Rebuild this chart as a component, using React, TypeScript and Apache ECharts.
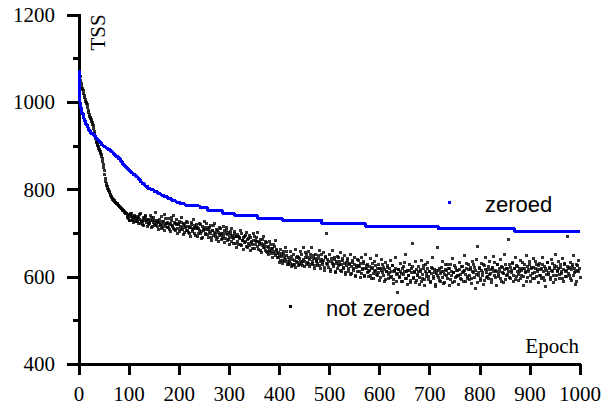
import React, { useEffect, useRef } from "react";
import * as echarts from "echarts";

// "zeroed" run: TSS per epoch (plateau starts)
const zeroedEpochs = [0, 1, 2, 3, 5, 8, 10, 13, 16, 19, 23, 28, 32, 36, 40, 44, 48, 53, 58, 63, 68, 73, 78, 83, 87, 91, 95, 99, 103, 108, 113, 118, 122, 126, 131, 137, 143, 150, 157, 163, 170, 177, 185, 193, 202, 212, 224, 242, 257, 287, 311, 357, 407, 485, 571, 717, 870, 1000];
const zeroedTSS = [1075, 1015, 1000, 988, 975, 965, 958, 950, 943, 935, 929, 924, 919, 914, 908, 903, 899, 895, 891, 886, 881, 876, 870, 864, 858, 853, 848, 843, 838, 834, 829, 824, 818, 813, 808, 803, 799, 795, 791, 787, 783, 779, 775, 771, 767, 763, 762, 758, 752, 745, 740, 733, 729, 722, 716, 710, 704, 704];

// "not zeroed" run: epochs 0..95, one value per epoch
const notZeroedEarly = [
  1078, 1068, 1060, 1050, 1042, 1036, 1032, 1030, 1026, 1020,
  1015, 1010, 1006, 1002, 1000, 998, 994, 988, 982, 976,
  971, 968, 965, 962, 960, 956, 953, 950, 946, 940,
  934, 928, 922, 916, 911, 907, 904, 901, 898, 895,
  892, 889, 886, 883, 880, 876, 871, 865, 858, 851,
  843, 834, 825, 818, 813, 809, 806, 803, 800, 797,
  795, 792, 789, 786, 784, 782, 780, 778, 777, 775,
  774, 773, 771, 770, 769, 768, 767, 766, 764, 763,
  762, 760, 759, 758, 757, 756, 755, 753, 752, 751,
  750, 748, 747, 746, 745, 744,
];

// "not zeroed" run: even epochs 96..1000
const evenFirstEpoch = 96;
const notZeroedEven = [
  735, 742, 730, 738, 745, 728, 736, 741, 726, 733,
  738, 722, 731, 744, 727, 719, 735, 729, 740, 724,
  716, 732, 725, 741, 712, 728, 735, 720, 747, 723,
  730, 709, 725, 718, 737, 714, 726, 705, 733, 721,
  712, 734, 720, 703, 728, 716, 740, 709, 722, 731,
  700, 719, 727, 708, 735, 713, 697, 722, 716, 705,
  725, 702, 714, 692, 719, 708, 731, 698, 712, 720,
  693, 711, 722, 700, 688, 716, 705, 727, 697, 709,
  714, 690, 703, 718, 684, 707, 695, 722, 699, 686,
  705, 681, 712, 694, 700, 688, 716, 679, 698, 706,
  684, 701, 673, 696, 711, 689, 677, 703, 692, 668,
  697, 675, 690, 706, 671, 684, 663, 693, 680, 702,
  668, 687, 695, 660, 681, 674, 699, 665, 683, 690,
  701, 662, 678, 686, 655, 671, 692, 666, 680, 659,
  669, 650, 680, 657, 665, 645, 675, 654, 684, 660,
  643, 656, 633, 662, 647, 638, 659, 634, 667, 649,
  629, 645, 634, 657, 624, 640, 650, 627, 662, 636,
  647, 625, 641, 658, 630, 636, 668, 623, 644, 651,
  633, 658, 624, 645, 667, 630, 641, 620, 652, 637,
  626, 648, 661, 619, 639, 632, 656, 615, 644, 698,
  640, 622, 651, 612, 634, 660, 627, 645, 609, 636,
  618, 643, 629, 655, 612, 637, 622, 648, 605, 632,
  641, 613, 628, 652, 607, 633, 619, 645, 600, 625,
  611, 637, 624, 598, 643, 616, 630, 604, 650, 619,
  628, 600, 614, 641, 595, 621, 607, 636, 612, 648,
  603, 627, 592, 618, 640, 609, 622, 588, 633, 611,
  621, 596, 609, 637, 601, 625, 584, 614, 644, 605,
  563, 617, 598, 631, 607, 589, 623, 612, 650, 595,
  615, 602, 628, 586, 619, 676, 597, 610, 634, 592,
  604, 623, 583, 612, 638, 596, 619, 580, 627, 607,
  632, 593, 611, 586, 621, 645, 600, 616, 578, 608,
  667, 598, 620, 590, 612, 636, 585, 605, 627, 614,
  596, 618, 579, 629, 603, 641, 610, 588, 622, 600,
  615, 582, 633, 606, 594, 624, 612, 648, 589, 619,
  601, 628, 593, 617, 585, 636, 609, 622, 574, 640,
  670, 604, 619, 592, 631, 610, 583, 625, 643, 598,
  617, 596, 635, 608, 587, 622, 646, 603, 614, 581,
  628, 600, 612, 639, 590, 621, 607, 652, 594, 618,
  605, 686, 627, 597, 614, 633, 588, 619, 644, 601,
  624, 592, 611, 637, 603, 620, 580, 629, 612, 648,
  599, 616, 634, 590, 622, 607, 642, 595, 618, 627,
  611, 586, 631, 604, 619, 645, 598, 623, 577, 614,
  632, 606, 620, 593, 639, 612, 587, 626, 651, 603,
  615, 636, 596, 622, 608, 642, 589, 628, 612, 600,
  692, 619, 604, 633, 591, 624, 648, 610, 583, 627,
  614, 637, 598,
];

// "not zeroed" run: odd epochs 97..999
const oddFirstEpoch = 97;
const notZeroedOdd = [
  740, 733, 729, 744, 737, 731, 725, 739, 734, 729,
  727, 735, 742, 721, 730, 726, 717, 733, 737, 728,
  731, 719, 722, 728, 736, 715, 724, 730, 718, 727,
  715, 724, 731, 720, 711, 727, 719, 742, 716, 723,
  725, 714, 708, 721, 735, 718, 711, 724, 706, 719,
  711, 722, 703, 716, 725, 709, 719, 701, 714, 727,
  707, 716, 699, 712, 724, 704, 710, 717, 695, 711,
  712, 698, 707, 719, 703, 691, 709, 714, 700, 722,
  696, 708, 712, 699, 689, 705, 717, 701, 693, 708,
  690, 702, 697, 711, 685, 699, 693, 705, 687, 714,
  697, 685, 690, 704, 681, 695, 688, 699, 676, 693,
  681, 692, 687, 674, 698, 683, 690, 679, 694, 670,
  685, 676, 671, 689, 678, 664, 684, 693, 673, 681,
  669, 680, 673, 661, 676, 685, 668, 674, 660, 679,
  656, 667, 661, 673, 653, 664, 658, 670, 649, 663,
  653, 645, 648, 637, 654, 631, 651, 645, 640, 657,
  634, 627, 640, 631, 646, 625, 629, 637, 622, 644,
  632, 643, 628, 636, 651, 626, 640, 634, 655, 629,
  645, 631, 639, 651, 628, 636, 648, 625, 642, 634,
  631, 641, 625, 636, 650, 629, 638, 622, 646, 631,
  628, 636, 617, 642, 631, 624, 639, 613, 630, 647,
  625, 634, 614, 628, 641, 620, 631, 609, 626, 638,
  619, 631, 606, 624, 637, 615, 627, 603, 622, 639,
  626, 613, 631, 607, 620, 635, 601, 618, 626, 609,
  612, 623, 604, 619, 630, 597, 615, 626, 605, 620,
  609, 620, 598, 614, 627, 603, 617, 594, 612, 625,
  605, 618, 599, 611, 626, 593, 613, 620, 589, 607,
  616, 601, 612, 590, 620, 606, 633, 597, 611, 583,
  603, 614, 592, 609, 624, 598, 611, 587, 616, 605,
  611, 598, 617, 590, 606, 626, 594, 612, 601, 620,
  600, 613, 589, 607, 619, 596, 610, 583, 614, 604,
  615, 591, 608, 622, 599, 611, 587, 617, 603, 628,
  607, 619, 594, 613, 586, 610, 625, 598, 615, 604,
  602, 617, 596, 623, 609, 590, 614, 605, 630, 597,
  616, 603, 621, 595, 612, 629, 599, 614, 606, 587,
  609, 622, 597, 615, 604, 628, 592, 617, 610, 601,
  624, 605, 616, 593, 620, 611, 632, 598, 613, 627,
  606, 619, 597, 624, 610, 586, 616, 629, 603, 620,
  613, 598, 622, 609, 631, 602, 618, 593, 625, 611,
  606, 620, 597, 615, 633, 601, 619, 610, 588, 623,
  612, 627, 603, 618, 595, 621, 609, 634, 600, 616,
  625, 604, 617, 596, 628, 612, 591, 619, 606, 633,
  610, 621, 599, 615, 630, 603, 618, 594, 624, 611,
  620, 605, 627, 612, 596, 617, 631, 601, 615, 624,
  608, 622, 597, 616, 629, 604, 619, 612, 590, 625,
  613, 620,
];

const xMin = 0, xMax = 1000, xInterval = 100;
const yMin = 400, yMax = 1200, yInterval = 200;

const SERIF = "Liberation Serif";
const SANS = "Liberation Sans";

export default function App() {
  const ref = useRef<HTMLDivElement>(null);
  useEffect(() => {
    const chart = echarts.init(ref.current!, null, { renderer: "svg" });
    const zeroedData = zeroedEpochs.map((e, i) => [e, zeroedTSS[i]]);
    const notZeroedData: number[][] = [];
    notZeroedEarly.forEach((v, i) => notZeroedData.push([i, v]));
    notZeroedEven.forEach((v, i) => notZeroedData.push([evenFirstEpoch + i * 2, v]));
    notZeroedOdd.forEach((v, i) => notZeroedData.push([oddFirstEpoch + i * 2, v]));

    const labelStyle = {
      color: "#000",
      fontFamily: SERIF,
      fontSize: 21,
      formatter: (v: number) => String(v),
    };

    chart.setOption({
      animation: false,
      backgroundColor: "#fff",
      textStyle: { fontFamily: SERIF, color: "#000" },
      grid: { left: 79, right: 32, top: 15, bottom: 41, containLabel: false },
      xAxis: {
        type: "value",
        min: xMin,
        max: xMax,
        interval: xInterval,
        axisLine: { onZero: false, lineStyle: { color: "#000", width: 3 } },
        axisTick: { length: 11, lineStyle: { color: "#000", width: 3 } },
        axisLabel: { ...labelStyle, margin: 19 },
        splitLine: { show: false },
      },
      yAxis: {
        type: "value",
        min: yMin,
        max: yMax,
        interval: yInterval,
        axisLine: { show: true, onZero: false, lineStyle: { color: "#000", width: 3 } },
        axisTick: { show: true, length: 12, lineStyle: { color: "#000", width: 3 } },
        minorTick: { show: true, splitNumber: 2, length: 6, lineStyle: { color: "#000", width: 3 } },
        axisLabel: { ...labelStyle, margin: 24 },
        splitLine: { show: false },
      },
      series: [
        {
          name: "zeroed",
          type: "line",
          step: "end",
          data: zeroedData,
          showSymbol: false,
          lineStyle: { color: "#0000ff", width: 3 },
          itemStyle: { color: "#0000ff" },
          z: 3,
        },
        {
          name: "not zeroed",
          type: "scatter",
          symbol: "rect",
          symbolSize: 3,
          data: notZeroedData,
          itemStyle: { color: "#000" },
          z: 2,
        },
      ],
      graphic: [
        {
          type: "text",
          x: 97.5,
          y: 32.5,
          rotation: Math.PI / 2,
          style: { text: "TSS", fontFamily: SERIF, fontSize: 21, fill: "#000", align: "center", verticalAlign: "middle" },
        },
        {
          type: "text",
          x: 579,
          y: 346,
          style: { text: "Epoch", fontFamily: SERIF, fontSize: 21, fill: "#000", align: "right", verticalAlign: "middle" },
        },
        { type: "rect", shape: { x: 448, y: 201, width: 3, height: 3 }, style: { fill: "#0000ff" } },
        {
          type: "text",
          x: 485,
          y: 204,
          style: { text: "zeroed", fontFamily: SANS, fontSize: 22, fill: "#000", align: "left", verticalAlign: "middle" },
        },
        { type: "rect", shape: { x: 288.5, y: 304.5, width: 3, height: 3 }, style: { fill: "#000" } },
        {
          type: "text",
          x: 326,
          y: 308,
          style: { text: "not zeroed", fontFamily: SANS, fontSize: 22, fill: "#000", align: "left", verticalAlign: "middle" },
        },
      ],
    });
    const svg = ref.current!.querySelector("svg");
    if (svg) (svg as SVGElement).style.shapeRendering = "crispEdges";
    return () => chart.dispose();
  }, []);
  return (
    <div
      ref={ref}
      style={{ position: "fixed", left: 0, top: 0, width: 612, height: 405, background: "#fff" }}
    />
  );
}
